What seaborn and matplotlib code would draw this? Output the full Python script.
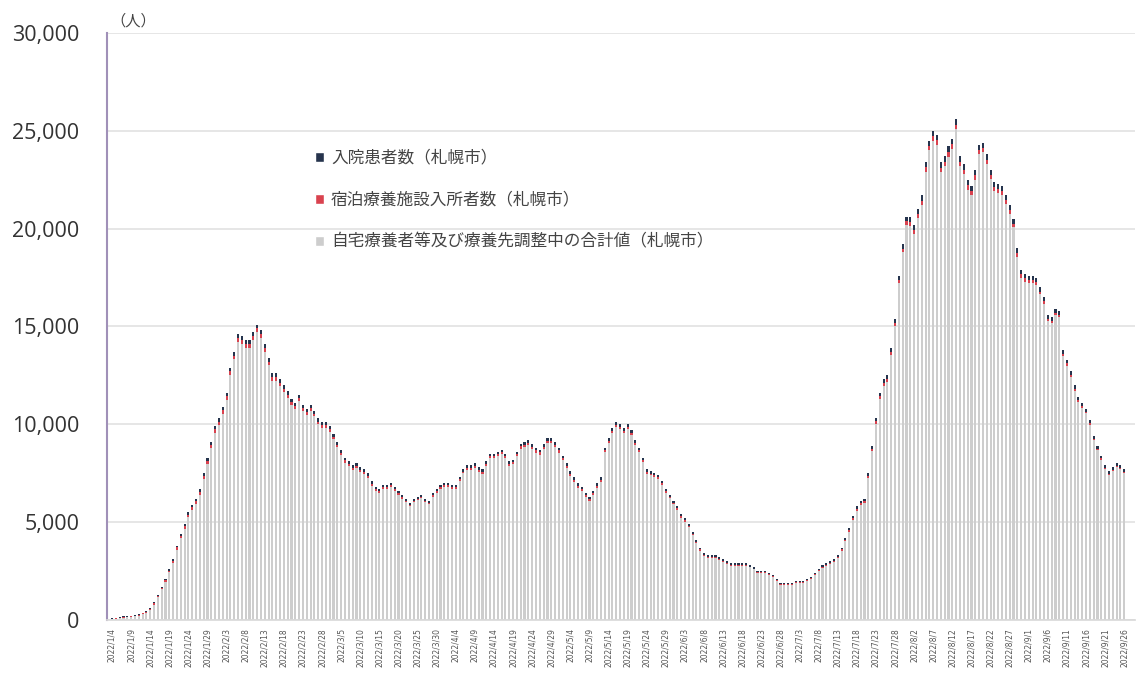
import numpy as np
import pandas as pd
import matplotlib
matplotlib.use("Agg")
import matplotlib.pyplot as plt
import seaborn as sns
from matplotlib.patches import Patch

# ---- data ----
start_date = "2022-01-04"
n_days = 266

total = [
    100, 120, 150, 180, 200,
    220, 260, 300, 380, 450,
    600, 900, 1300, 1700, 2100,
    2600, 3100, 3800, 4400, 4900,
    5500, 5900, 6200, 6700, 7500,
    8300, 9100, 9900, 10300, 10900,
    11600, 12900, 13700, 14600, 14500,
    14300, 14300, 14700, 15100, 14800,
    14100, 13400, 12600, 12600, 12300,
    12000, 11700, 11300, 11100, 11500,
    11000, 10800, 11000, 10700, 10300,
    10100, 10100, 9900, 9500, 9100,
    8700, 8300, 8100, 7900, 8000,
    7800, 7700, 7500, 7100, 6800,
    6700, 6900, 6900, 7000, 6800,
    6600, 6400, 6200, 6000, 6200,
    6300, 6400, 6200, 6100, 6500,
    6700, 6900, 7000, 7000, 6900,
    6900, 7300, 7700, 7900, 7900,
    8000, 7800, 7700, 8100, 8500,
    8500, 8600, 8700, 8500, 8100,
    8200, 8600, 9000, 9100, 9200,
    9000, 8800, 8700, 9000, 9300,
    9300, 9100, 8800, 8400, 8000,
    7600, 7300, 7000, 6800, 6500,
    6300, 6600, 7000, 7300, 8800,
    9300, 9800, 10100, 10000, 9800,
    10000, 9700, 9200, 8800, 8300,
    7700, 7600, 7500, 7400, 7100,
    6700, 6400, 6100, 5800, 5400,
    5200, 4900, 4500, 4100, 3700,
    3400, 3300, 3300, 3300, 3200,
    3100, 3000, 2900, 2900, 2900,
    2900, 2900, 2800, 2700, 2500,
    2500, 2500, 2400, 2300, 2100,
    1900, 1900, 1900, 1900, 2000,
    2000, 2000, 2100, 2200, 2400,
    2600, 2800, 2900, 3000, 3100,
    3300, 3700, 4200, 4700, 5300,
    5800, 6100, 6200, 7500, 8900,
    10300, 11600, 12300, 12500, 13900,
    15400, 17600, 19200, 20600, 20600,
    20200, 21000, 21700, 23400, 24500,
    25000, 24800, 23400, 23700, 24200,
    24600, 25600, 23700, 23300, 22500,
    22200, 23000, 24300, 24400, 23800,
    23000, 22400, 22300, 22200, 21700,
    21200, 20500, 19000, 17900, 17700,
    17600, 17600, 17500, 17000, 16500,
    15600, 15500, 15900, 15800, 13800,
    13300, 12700, 12000, 11400, 11100,
    10800, 10200, 9400, 8900, 8400,
    7900, 7600, 7800, 8000, 7900,
    7700,
]

hospital = [
    30, 30, 30, 35, 35, 40, 40, 45, 45, 50,
    50, 55, 60, 65, 70, 75, 80, 90, 100, 105,
    110, 120, 130, 135, 140, 150, 155, 160, 165, 170,
    175, 180, 185, 190, 190, 195, 200, 200, 200, 200,
    200, 195, 190, 190, 185, 185, 180, 180, 180, 175,
    170, 170, 165, 165, 160, 160, 160, 155, 150, 150,
    145, 145, 140, 140, 140, 135, 130, 130, 130, 125,
    120, 120, 120, 120, 115, 115, 115, 110, 110, 110,
    110, 110, 110, 110, 110, 110, 110, 110, 110, 110,
    110, 110, 115, 115, 115, 115, 120, 120, 120, 120,
    120, 125, 125, 130, 130, 130, 130, 130, 135, 135,
    135, 135, 135, 140, 140, 140, 140, 135, 135, 130,
    130, 130, 130, 130, 125, 125, 125, 130, 130, 130,
    130, 135, 135, 135, 130, 130, 130, 130, 125, 120,
    120, 120, 115, 110, 110, 110, 105, 100, 100, 100,
    95, 90, 90, 90, 85, 80, 80, 80, 80, 80,
    75, 75, 70, 70, 70, 70, 70, 70, 70, 65,
    65, 65, 60, 60, 60, 60, 60, 60, 60, 60,
    60, 65, 65, 65, 70, 70, 75, 80, 80, 85,
    90, 90, 100, 100, 110, 115, 120, 130, 140, 145,
    155, 165, 175, 185, 195, 205, 215, 225, 235, 245,
    250, 260, 270, 275, 280, 285, 290, 290, 290, 295,
    295, 295, 290, 290, 290, 285, 280, 280, 280, 275,
    270, 270, 270, 265, 260, 255, 250, 245, 240, 235,
    230, 225, 220, 215, 210, 205, 200, 195, 190, 185,
    180, 175, 170, 165, 160, 155, 150, 145, 140, 135,
    130, 130, 130, 125, 120, 120,
]

hotel = [
    15, 15, 20, 20, 25, 25, 30, 30, 35, 40,
    50, 55, 65, 75, 85, 95, 105, 115, 125, 135,
    145, 150, 155, 160, 165, 170, 175, 180, 185, 190,
    190, 195, 195, 200, 200, 200, 200, 200, 195, 195,
    190, 185, 180, 175, 170, 165, 160, 155, 150, 145,
    145, 140, 140, 135, 135, 130, 130, 125, 125, 120,
    120, 115, 115, 110, 110, 105, 105, 100, 100, 95,
    95, 95, 90, 90, 90, 90, 85, 85, 85, 85,
    80, 80, 80, 80, 85, 85, 85, 85, 90, 90,
    90, 90, 95, 95, 95, 95, 100, 100, 100, 100,
    105, 105, 105, 105, 110, 110, 110, 110, 115, 115,
    115, 115, 115, 120, 120, 120, 115, 115, 110, 110,
    105, 105, 100, 100, 95, 95, 100, 100, 105, 105,
    110, 115, 115, 115, 115, 110, 110, 105, 105, 100,
    100, 95, 95, 90, 90, 85, 85, 80, 80, 75,
    75, 70, 70, 65, 65, 60, 60, 60, 55, 55,
    55, 55, 50, 50, 50, 50, 50, 45, 45, 45,
    45, 45, 40, 40, 40, 40, 40, 40, 40, 40,
    40, 45, 45, 45, 50, 50, 55, 55, 60, 60,
    65, 70, 75, 80, 85, 90, 100, 105, 115, 120,
    130, 135, 145, 150, 160, 165, 175, 180, 190, 195,
    200, 205, 210, 215, 220, 225, 225, 230, 230, 230,
    230, 230, 230, 225, 225, 220, 220, 215, 215, 210,
    210, 205, 205, 200, 195, 190, 185, 180, 175, 170,
    165, 160, 155, 150, 145, 140, 135, 130, 125, 120,
    115, 110, 105, 100, 95, 90, 85, 80, 75, 70,
    70, 65, 65, 60, 60, 55,
]

series_labels = [
    "入院患者数（札幌市）",
    "宿泊療養施設入所者数（札幌市）",
    "自宅療養者等及び療養先調整中の合計値（札幌市）",
]
y_ticks = [0, 5000, 10000, 15000, 20000, 25000, 30000]

# ---- build frame ----
dates = pd.date_range(start_date, periods=n_days, freq="D")
tick_labels = [f"{d.year}/{d.month}/{d.day}" for d in dates]
total_a = np.array(total, dtype=float)
hosp_a = np.array(hospital, dtype=float)
hotel_a = np.array(hotel, dtype=float)
home_a = total_a - hosp_a - hotel_a
df = pd.DataFrame({
    "idx": np.arange(n_days),
    "top": total_a,                 # home + hotel + hospital
    "mid": home_a + hotel_a,        # home + hotel
    "bottom": home_a,               # home only
})

c_navy = "#26344d"
c_red = "#d9424f"
c_grey = "#cdcdcd"

sns.set_theme(style="white")
plt.rcParams["font.family"] = ["Noto Sans CJK JP", "DejaVu Sans"]

fig = plt.figure(figsize=(11.41, 6.84), dpi=100)
ax = fig.add_axes([0.0938, 0.0936, 0.9009, 0.8582])

bw = 0.55
sns.barplot(data=df, x="idx", y="top", native_scale=True, color=c_navy,
            saturation=1, width=bw, linewidth=0, ax=ax)
sns.barplot(data=df, x="idx", y="mid", native_scale=True, color=c_red,
            saturation=1, width=bw, linewidth=0, ax=ax)
sns.barplot(data=df, x="idx", y="bottom", native_scale=True, color=c_grey,
            saturation=1, width=bw, linewidth=0, ax=ax)

ax.set_ylim(0, 30000)
ax.set_xlim(-1.3, 267.8)
ax.set_yticks(y_ticks)
ax.set_yticklabels([f"{v:,}" for v in y_ticks], fontsize=15.5, color="#333333",
                   family=["Open Sans", "DejaVu Sans"])
ax.tick_params(axis="y", length=0, pad=20)
ax.yaxis.grid(True, color="#e2e2e2", linewidth=1.2)
ax.set_axisbelow(True)

tick_pos = list(range(0, n_days, 5))
ax.set_xticks(tick_pos)
ax.set_xticklabels([tick_labels[i] for i in tick_pos], rotation=90,
                   fontsize=5.5, color="#555555", family=["DejaVu Sans"])
ax.tick_params(axis="x", length=0, pad=6)
ax.set_xlabel("")
ax.set_ylabel("")

for s in ["top", "right"]:
    ax.spines[s].set_visible(False)
ax.spines["bottom"].set_color("#d9d9d9")
ax.spines["left"].set_color("#a090b8")
ax.spines["left"].set_linewidth(1.5)

fig.text(0.097, 0.962, "（人）", fontsize=11, color="#444444")

handles = [Patch(facecolor=c_navy), Patch(facecolor=c_red), Patch(facecolor=c_grey)]
leg = fig.legend(handles, series_labels, loc="upper left",
                 bbox_to_anchor=(0.263, 0.803), frameon=False,
                 fontsize=12, labelcolor="#444444", handlelength=0.55,
                 handleheight=0.55, handletextpad=0.4, labelspacing=1.5)

fig.savefig("out.png", dpi=100)
